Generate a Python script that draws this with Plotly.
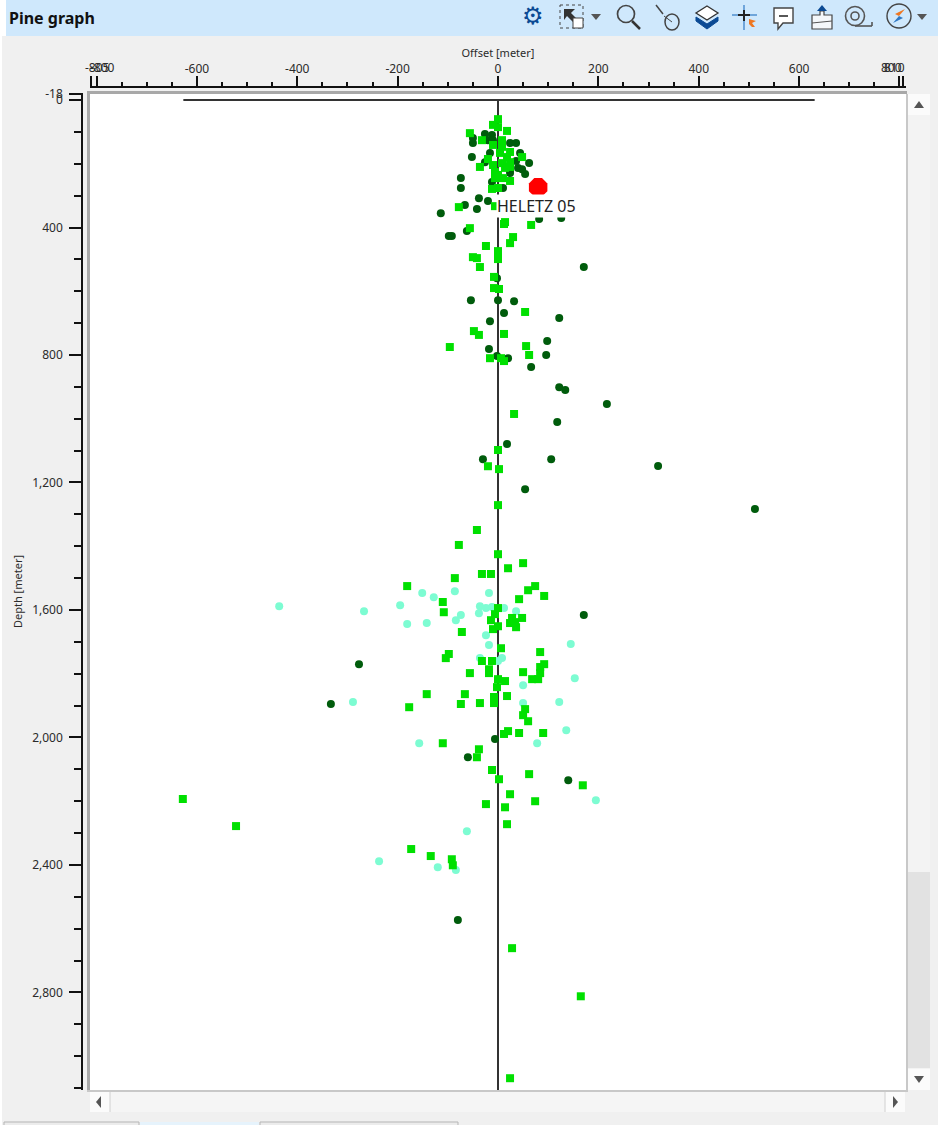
import plotly.graph_objects as go

W, H = 938, 1125

# events, offset / depth in meter
deep_x = [-26,-12,-50,-50,-20,-10,24,36,-52,-16,44,36,62,-26,24,40,48,54,24,-12,10,-74,-74,-66,-38,-20,-42,-114,-98,-92,-62,-2,82,126,171,
          -54,0,32,12,-16,122,98,-18,-2,20,96,66,122,134,217,118,18,-30,106,319,54,512,171,-277,-333,-6,-60,140,-80]
deep_y = [107,110,119,135,126,126,135,135,179,166,166,191,198,195,220,213,217,232,229,257,276,245,276,329,308,317,342,355,427,427,411,559,373,370,524,
          628,628,631,668,694,684,756,781,803,810,800,838,901,910,954,1010,1079,1127,1127,1148,1221,1283,1616,1770,1895,2005,2062,2134,2573]

square_x = [0,-10,0,-56,18,-32,8,-10,8,24,18,4,-20,48,-10,8,24,-36,-6,14,24,0,-6,10,24,-12,0,-78,-6,14,12,66,-56,30,24,-24,0,0,0,-50,-42,-36,-8,-8,2,
            54,-48,-38,12,-96,56,62,-16,6,12,32,0,-20,2,0,-42,-78,0,20,50,-32,-14,-86,-181,74,60,42,92,-110,-108,0,-6,-14,48,28,24,34,36,0,-10,-72,
            6,84,-98,-104,-32,-12,92,84,-18,-56,-18,50,84,68,80,0,14,-2,-142,-66,18,-8,-8,-74,-36,-177,54,50,60,20,12,42,90,-110,-38,-42,-12,2,62,169,
            24,74,-24,14,18,-173,-134,-92,-90,-628,-522,28,165,24]
square_y = [60,78,85,104,97,126,126,141,147,163,179,166,185,179,204,198,195,210,226,213,210,235,245,245,254,279,276,336,333,383,389,392,402,430,449,458,474,486,499,493,496,524,555,590,593,
            665,725,737,734,775,772,800,810,810,819,985,1098,1149,1158,1271,1349,1396,1425,1469,1453,1487,1487,1500,1525,1525,1538,1566,1556,1575,1607,1594,1613,1632,1625,1625,1641,1638,1654,1651,1660,1669,
            1720,1732,1738,1751,1760,1760,1770,1779,1786,1798,1798,1795,1798,1817,1817,1817,1823,1842,1864,1864,1870,1873,1892,1895,1892,1905,1911,1930,1949,1980,1989,1986,1986,2018,2037,2062,2102,2131,2115,2150,
            2178,2200,2209,2219,2272,2350,2372,2382,2401,2193,2278,2661,2812,3069]

aqua_x = [-436,-267,-195,-151,-128,-86,-18,-36,-24,-12,12,36,-38,-74,-84,-181,-142,-24,-18,145,-36,8,0,153,50,-289,50,122,136,-157,78,195,-62,-237,-120,-84]
aqua_y = [1588,1604,1585,1547,1560,1541,1547,1588,1594,1591,1594,1604,1610,1616,1632,1644,1641,1679,1710,1707,1751,1751,1760,1814,1836,1889,1892,1889,1977,2018,2018,2197,2294,2388,2407,2416]

well_name = "HELETZ 05"
well_x = [80]
well_y = [274]
head_x = [-627, 631]
head_y = [0, 0]
path_x = [0, 0]
path_y = [0, 3106]

x_ticks = [-811, -800, -600, -400, -200, 0, 200, 400, 600, 800, 808]
x_labels = ["", "", "-600", "-400", "-200", "0", "200", "400", "600", "", ""]
# end labels sit inward of their ticks in the original
edge_labels = ["-805", "-800", "800", "810"]
edge_label_x = [-798, -788, 784, 790]
y_ticks = [-18, 0, 400, 800, 1200, 1600, 2000, 2400, 2800]
y_labels = ["-18", "0", "400", "800", "1,200", "1,600", "2,000", "2,400", "2,800"]

FONT = "Noto Sans"
INK = "#2b2b2b"
BLUE = "#0b4a94"


def px(x):
    return x / W


def py(y):
    return 1 - y / H


def rect(x0, y0, x1, y1, fill, line=None):
    return dict(type="rect", xref="paper", yref="paper", x0=px(x0), y0=py(y0), x1=px(x1), y1=py(y1),
                fillcolor=fill, line=dict(color=line or fill, width=1 if line else 0))


def seg(x0, y0, x1, y1, color=INK, width=1.5):
    return dict(type="line", xref="paper", yref="paper", x0=px(x0), y0=py(y0), x1=px(x1), y1=py(y1),
                line=dict(color=color, width=width))


def circle(cx, cy, r, color=INK, width=1.5, ry=None):
    ry = ry or r
    return dict(type="circle", xref="paper", yref="paper", x0=px(cx - r), y0=py(cy - ry), x1=px(cx + r), y1=py(cy + ry),
                line=dict(color=color, width=width))


def poly(points, fill="rgba(0,0,0,0)", color=INK, width=1.5):
    d = "M" + " L".join(f"{px(a):.5f},{py(b):.5f}" for a, b in points) + " Z"
    return dict(type="path", xref="paper", yref="paper", path=d, fillcolor=fill, line=dict(color=color, width=width))


fig = go.Figure()
fig.add_trace(go.Scatter(x=head_x, y=head_y, mode="lines", line=dict(color="#333333", width=2), hoverinfo="skip"))
fig.add_trace(go.Scatter(x=path_x, y=path_y, mode="lines", line=dict(color="#333333", width=2), hoverinfo="skip"))
fig.add_trace(go.Scatter(x=aqua_x, y=aqua_y, mode="markers", marker=dict(symbol="circle", size=8, color="#7dfcd2")))
fig.add_trace(go.Scatter(x=deep_x, y=deep_y, mode="markers", marker=dict(symbol="circle", size=8, color="#005c0c")))
fig.add_trace(go.Scatter(x=square_x, y=square_y, mode="markers", marker=dict(symbol="square", size=8, color="#00e000")))
fig.add_trace(go.Scatter(x=well_x, y=well_y, mode="markers", marker=dict(symbol="octagon", size=20, color="#ff0000")))

shapes = [
    rect(0, 0, 6, 36, "#ffffff"),
    rect(0, 0, 2, H, "#ffffff"),
    rect(6, 0, W, 36, "#cfe8fc"),
    # plot frame
    rect(87, 91, 90, 1090, "#a8a8a8"),
    rect(87, 91, 907, 94, "#a8a8a8"),
    rect(906, 94, 908, 1090, "#c8c8c8"),
    rect(87, 1090, 908, 1092, "#c8c8c8"),
    # right scrollbar
    rect(908, 94, 930, 1090, "#f3f3f3"),
    rect(908, 94, 930, 115, "#fbfbfb"),
    rect(908, 872, 930, 1068, "#e2e2e2"),
    rect(908, 1069, 930, 1090, "#fbfbfb"),
    poly([(919, 101), (914, 108), (924, 108)], fill="#555555", color="#555555", width=0),
    poly([(919, 1083), (914, 1076), (924, 1076)], fill="#555555", color="#555555", width=0),
    # bottom scrollbar
    rect(90, 1092, 905, 1112, "#f5f5f5"),
    rect(90, 1092, 110, 1112, "#fbfbfb"),
    rect(885, 1092, 905, 1112, "#fbfbfb"),
    seg(110, 1092, 110, 1112, "#d0d0d0", 1),
    seg(885, 1092, 885, 1112, "#d0d0d0", 1),
    poly([(96, 1102), (101, 1096), (101, 1108)], fill="#555555", color="#555555", width=0),
    poly([(898, 1102), (893, 1096), (893, 1108)], fill="#555555", color="#555555", width=0),
    # tabs
    rect(4, 1122, 139, 1126, "#ececec", "#b5b5b5"),
    rect(140, 1122, 259, 1126, "#e6f3fc"),
    rect(260, 1122, 458, 1126, "#ececec", "#b5b5b5"),
    # toolbar: select
    dict(rect(560, 5, 583, 28, "rgba(0,0,0,0)", "#444444"), line=dict(color="#444444", width=1, dash="dot")),
    poly([(564, 9), (575, 9), (571, 13), (578, 20), (574, 23), (567, 16), (564, 20)], fill="#333333", color="#333333", width=0),
    rect(573, 18, 583, 28, "#ffffff", "#444444"),
    poly([(591, 14), (601, 14), (596, 20)], fill="#555555", color="#555555", width=0),
    # magnifier
    circle(626, 14, 8.5, "#444444", 1.7),
    seg(632, 21, 640, 29, "#333333", 2.5),
    # mouse
    seg(656, 5, 663, 14, "#444444", 1.5),
    circle(672, 22, 7, "#444444", 1.5, ry=8),
    seg(664, 16, 672, 22, "#444444", 1),
    # layers
    poly([(707, 6), (718, 13), (707, 20), (696, 13)], fill="#ffffff", color="#333333", width=1.3),
    poly([(696, 17), (707, 24), (718, 17), (718, 21), (707, 29), (696, 21)], fill=BLUE, color=BLUE, width=1),
    # crosshair
    seg(744, 5, 744, 30, "#2f78c4", 1.2),
    seg(732, 15, 757, 15, "#2f78c4", 1.2),
    seg(744, 10, 744, 21, "#222222", 2),
    seg(738, 15, 750, 15, "#222222", 2),
    poly([(749, 19), (756, 21), (752, 23), (755, 27), (752, 27), (749, 24)], fill="#ee7722", color="#ee7722", width=0),
    # comment
    poly([(774, 8), (793, 8), (793, 23), (783, 23), (778, 29), (778, 23), (774, 23)], fill="#ffffff", color="#444444", width=1.4),
    seg(779, 16, 788, 16, "#444444", 1.8),
    # export
    poly([(812, 15), (820, 15), (820, 11), (824, 11), (824, 15), (832, 15), (832, 29), (812, 29)], fill="#f4f7fa", color="#444444", width=1.2),
    poly([(822, 5), (827, 11), (817, 11)], fill=BLUE, color=BLUE, width=0),
    seg(812, 23, 832, 21, "#555555", 1),
    # tape
    circle(855, 16, 9.5, "#555555", 1.6),
    circle(855, 16, 4, "#555555", 1.6),
    seg(855, 26, 872, 26, "#555555", 1.6),
    seg(872, 22, 872, 26, "#555555", 1.6),
    # compass
    circle(899, 16, 12, "#444444", 1.4),
    poly([(905, 9), (899, 16), (895, 14)], fill="#ee7722", color="#ee7722", width=0),
    poly([(893, 23), (899, 16), (903, 18)], fill="#2f78c4", color="#2f78c4", width=0),
    poly([(917, 14), (927, 14), (922, 20)], fill="#555555", color="#555555", width=0),
]

annotations = [
    dict(x=-3, y=333, xref="x", yref="y", xanchor="left", yanchor="middle", text=well_name, showarrow=False,
         bgcolor="#ffffff", borderpad=0, font=dict(family=FONT, size=16, color="#222222")),
    dict(x=px(7), y=py(18), xref="paper", yref="paper", xanchor="left", yanchor="middle", text="<b>Pine graph</b>",
         showarrow=False, font=dict(family=FONT, size=16, color="#111111")),
    dict(x=px(533), y=py(16), xref="paper", yref="paper", xanchor="center", yanchor="middle", text="⚙",
         showarrow=False, font=dict(family="DejaVu Sans", size=24, color=BLUE)),
]
for label, pos in zip(edge_labels, edge_label_x):
    annotations.append(dict(x=pos, y=py(68), xref="x", yref="paper", xanchor="center", yanchor="middle", text=label,
                            showarrow=False, font=dict(family=FONT, size=12, color=INK)))

fig.update_layout(
    width=W,
    height=H,
    margin=dict(l=0, r=0, t=0, b=0, pad=0, autoexpand=False),
    paper_bgcolor="#f0f0f0",
    plot_bgcolor="#ffffff",
    showlegend=False,
    font=dict(family=FONT, size=12, color=INK),
    shapes=shapes,
    annotations=annotations,
    xaxis=dict(
        domain=[px(90), px(906)],
        range=[-813, 813],
        side="top",
        anchor="free",
        position=py(87),
        title=dict(text="Offset [meter]", font=dict(size=11), standoff=0),
        tickmode="array",
        tickvals=x_ticks,
        ticktext=x_labels,
        tickangle=0,
        ticks="outside",
        ticklen=10,
        tickwidth=1.5,
        tickcolor="#111111",
        ticklabelstandoff=-2,
        minor=dict(tickmode="linear", tick0=0, dtick=50, ticks="outside", ticklen=4, tickwidth=1.5, tickcolor="#111111"),
        showline=True,
        linecolor="#111111",
        linewidth=1.5,
        showgrid=False,
        zeroline=False,
    ),
    yaxis=dict(
        domain=[py(1090), py(93)],
        range=[3106, -22],
        anchor="free",
        position=px(82),
        title=dict(text="Depth [meter]", font=dict(size=11), standoff=6),
        tickmode="array",
        tickvals=y_ticks,
        ticktext=y_labels,
        ticks="outside",
        ticklen=12,
        tickwidth=1.5,
        tickcolor="#111111",
        ticklabelstandoff=4,
        minor=dict(tickmode="linear", tick0=0, dtick=100, ticks="outside", ticklen=7, tickwidth=1.5, tickcolor="#111111"),
        showline=True,
        linecolor="#111111",
        linewidth=1.5,
        showgrid=False,
        zeroline=False,
    ),
)

# page margin off so the figure fills the window
fig.write_html("out.html", config=dict(displayModeBar=False),
               post_script="document.body.style.margin='0';")
